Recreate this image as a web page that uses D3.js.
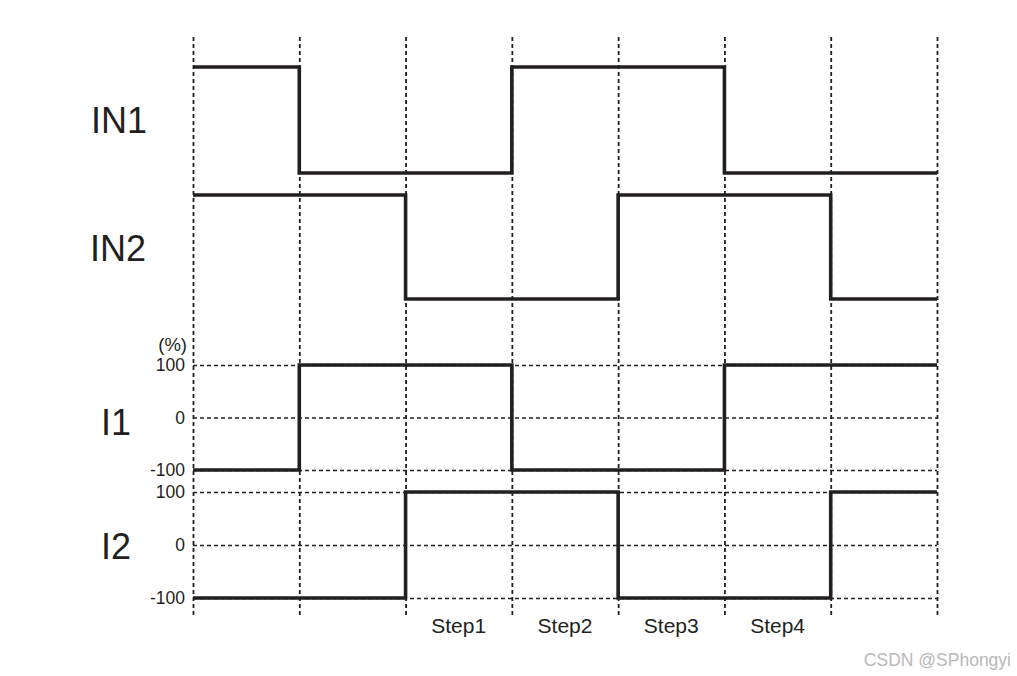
<!DOCTYPE html>
<html>
<head>
<meta charset="utf-8">
<script src="https://cdn.jsdelivr.net/npm/d3@7"></script>
<style>
  html, body { margin: 0; padding: 0; background: #fff; }
  svg { display: block; font-family: "Liberation Sans", Arial, sans-serif; }
</style>
</head>
<body>
<svg id="chart" width="1017" height="676"></svg>
<script>
// ---- data ----
const timeTicks = [0, 1, 2, 3, 4, 5, 6, 7];
const in1Values = [1, 0, 0, 1, 1, 0, 0];
const in2Values = [1, 1, 0, 0, 1, 1, 0];
const i1Values = [-100, 100, 100, -100, -100, 100, 100];
const i2Values = [-100, -100, 100, 100, -100, -100, 100];
const currentTicks = [-100, 0, 100];
const stepLabels = ["Step1", "Step2", "Step3", "Step4"];
const stepStart = [2, 3, 4, 5];
const signalNames = ["IN1", "IN2", "I1", "I2"];
const unitLabel = "(%)";
const watermark = "CSDN @SPhongyi";

const svg = d3.select("#chart");
const ink = "#231f20";

const x = d3.scaleLinear().domain([0, 7]).range([193, 937]);
const yIN1 = d3.scaleLinear().domain([0, 1]).range([173, 67]);
const yIN2 = d3.scaleLinear().domain([0, 1]).range([299, 195]);
const yI1 = d3.scaleLinear().domain([-100, 100]).range([470, 365]);
const yI2 = d3.scaleLinear().domain([-100, 100]).range([598, 492]);

// vertical dashed lines
const vAxis = d3.axisBottom(x).tickValues(timeTicks).tickSize(-580).tickFormat("");
const vg = svg.append("g").attr("transform", "translate(0,615)").call(vAxis);
vg.select(".domain").remove();
vg.selectAll(".tick line").attr("stroke", ink).attr("stroke-width", 1.8).attr("stroke-dasharray", "4,3");

// horizontal grids + tick labels for I1, I2
function currentAxis(scale) {
  const g = svg.append("g").attr("transform", "translate(193,0)")
    .call(d3.axisLeft(scale).tickValues(currentTicks).tickSize(-(937 - 193)).tickPadding(8).tickFormat(d => String(d)));
  g.select(".domain").remove();
  g.selectAll(".tick line").attr("stroke", ink).attr("stroke-width", 1.5).attr("stroke-dasharray", "4,3");
  g.selectAll(".tick text").attr("font-size", 17.5).attr("fill", ink)
    .attr("font-family", "Liberation Sans, Arial, sans-serif").attr("x", -8);
  return g;
}
currentAxis(yI1);
currentAxis(yI2);

// step waveforms
function drawWave(vals, scale) {
  const pts = vals.map((v, i) => [i, v]);
  pts.push([vals.length, vals[vals.length - 1]]);
  const line = d3.line().x(d => x(d[0])).y(d => scale(d[1])).curve(d3.curveStepAfter);
  svg.append("path").datum(pts).attr("d", line)
    .attr("fill", "none").attr("stroke", ink).attr("stroke-width", 3.6)
    .attr("stroke-linejoin", "miter").attr("stroke-linecap", "butt");
}
drawWave(in1Values, yIN1);
drawWave(in2Values, yIN2);
drawWave(i1Values, yI1);
drawWave(i2Values, yI2);

// signal names
const namePos = [[119, 133], [118, 261], [116, 435], [116, 559]];
svg.selectAll("text.sig").data(signalNames).enter().append("text")
  .attr("class", "sig")
  .attr("x", (d, i) => namePos[i][0]).attr("y", (d, i) => namePos[i][1])
  .attr("text-anchor", "middle").attr("font-size", 36).attr("fill", ink)
  .text(d => d);

// unit label
svg.append("text").attr("x", 187).attr("y", 351).attr("text-anchor", "end")
  .attr("font-size", 18.5).attr("fill", ink).text(unitLabel);

// step labels
svg.selectAll("text.step").data(stepLabels).enter().append("text")
  .attr("class", "step")
  .attr("x", (d, i) => x(stepStart[i] + 0.5)).attr("y", 633)
  .attr("text-anchor", "middle").attr("font-size", 21).attr("fill", ink)
  .text(d => d);

// watermark
svg.append("text").attr("x", 1011).attr("y", 666).attr("text-anchor", "end")
  .attr("font-size", 17.5).attr("fill", "#b8b8b8").text(watermark);
</script>
</body>
</html>
